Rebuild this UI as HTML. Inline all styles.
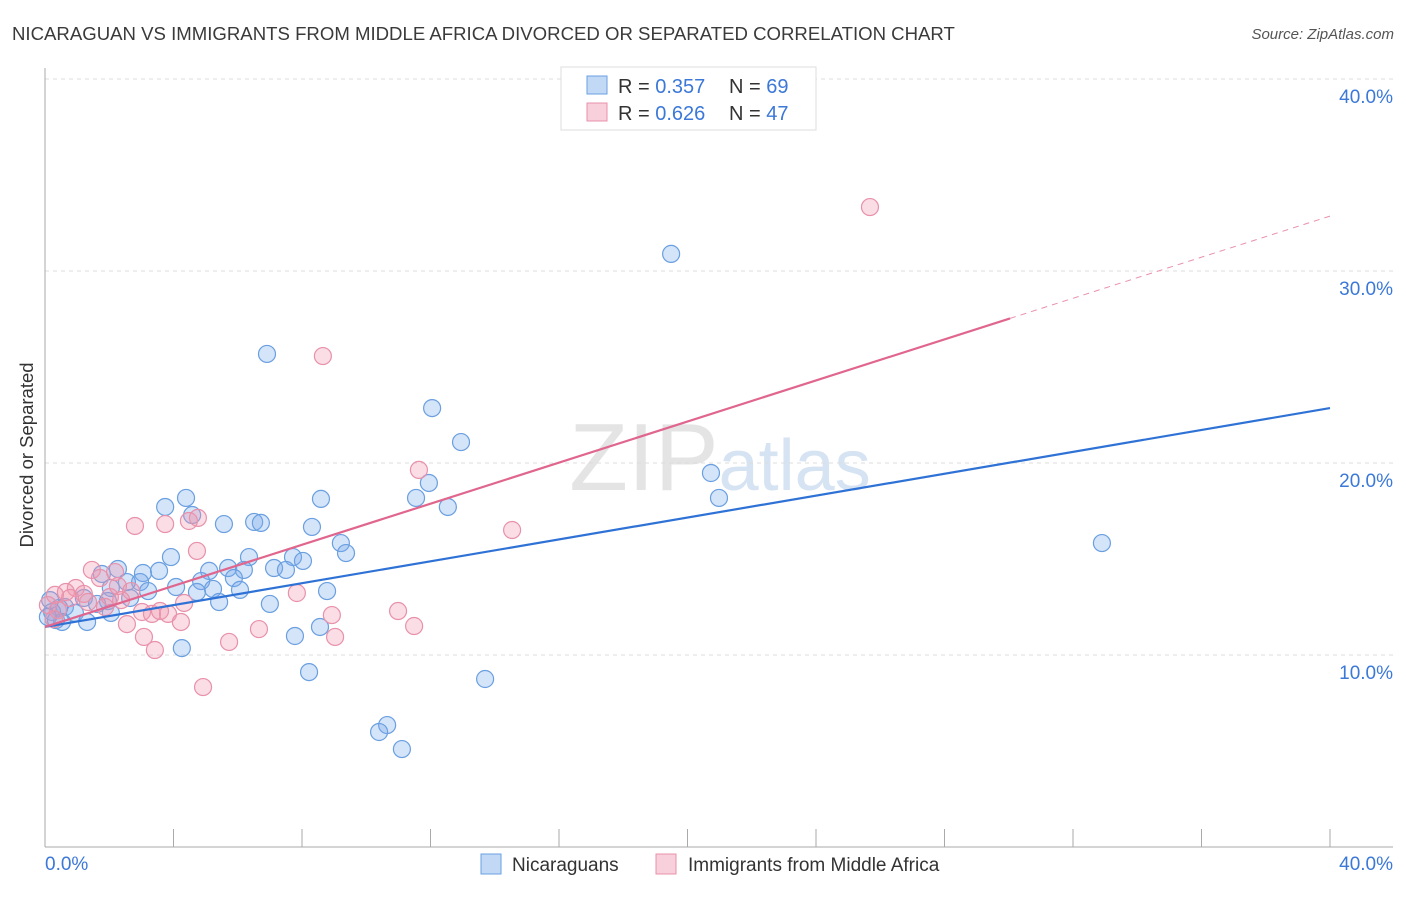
<!DOCTYPE html>
<html><head><meta charset="utf-8"><style>
body{margin:0;background:#fff;font-family:"Liberation Sans",sans-serif;}
svg text{font-family:"Liberation Sans",sans-serif;}
</style></head><body>
<svg id="chart" width="1406" height="892" xmlns="http://www.w3.org/2000/svg">
<text x="12" y="40" font-size="18.6" fill="#3a3a3a">NICARAGUAN VS IMMIGRANTS FROM MIDDLE AFRICA DIVORCED OR SEPARATED CORRELATION CHART</text>
<text x="1394" y="39" font-size="15" fill="#555" text-anchor="end" font-style="italic">Source: ZipAtlas.com</text>
<text x="720" y="490" font-size="96" fill="#e4e4e4" text-anchor="middle" font-family="Liberation Serif,serif">ZIP<tspan fill="#d6e3f3" font-family="Liberation Sans,sans-serif" font-size="72">atlas</tspan></text>
<g id="grid"></g>
<g id="axes"></g>
<g id="points"></g>
<g id="lines"></g>
<text transform="translate(33,455) rotate(-90)" font-size="18.5" fill="#333" text-anchor="middle">Divorced or Separated</text>
<g>
<rect x="561" y="67" width="255" height="63" fill="#fff" stroke="#ddd"/>
<rect x="587" y="76" width="20" height="18" fill="rgba(120,170,235,0.45)" stroke="#6a9fe0"/>
<text x="618" y="93" font-size="20" fill="#333">R = <tspan fill="#3b78d8">0.357</tspan></text>
<text x="729" y="93" font-size="20" fill="#333">N = <tspan fill="#3b78d8">69</tspan></text>
<rect x="587" y="103" width="20" height="18" fill="rgba(240,150,175,0.45)" stroke="#e891ab"/>
<text x="618" y="120" font-size="20" fill="#333">R = <tspan fill="#3b78d8">0.626</tspan></text>
<text x="729" y="120" font-size="20" fill="#333">N = <tspan fill="#3b78d8">47</tspan></text>
</g>
<g>
<rect x="481" y="854" width="20" height="20" fill="rgba(120,170,235,0.45)" stroke="#6a9fe0"/>
<text x="512" y="871" font-size="19" fill="#333">Nicaraguans</text>
<rect x="656" y="854" width="20" height="20" fill="rgba(240,150,175,0.45)" stroke="#e891ab"/>
<text x="688" y="871" font-size="19" fill="#333">Immigrants from Middle Africa</text>
</g>
</svg>
<script>
const blueX=[19.49,6.91,12.05,12.95,20.73,20.98,32.90,11.95,11.55,12.54,8.59,4.39,3.74,4.58,5.57,6.51,6.72,8.31,9.21,9.37,6.35,7.72,8.03,3.92,2.27,1.77,3.05,3.55,5.11,5.70,6.19,7.13,7.50,5.88,2.96,2.55,2.05,3.21,4.08,4.86,5.23,6.07,4.73,8.78,5.42,7.00,1.21,1.62,1.96,0.62,0.44,0.22,0.93,1.31,0.34,0.53,2.05,8.56,7.78,4.26,8.22,13.70,10.65,10.40,11.11,0.16,0.09,2.65];
const blueY=[30.89,25.68,22.86,21.09,19.48,18.18,15.83,18.96,18.18,17.71,18.13,18.18,17.71,17.29,16.82,16.93,16.88,16.67,15.83,15.31,15.10,15.10,14.90,15.10,14.48,14.22,14.27,14.38,14.38,14.53,14.43,14.53,14.43,14.01,13.80,13.80,13.49,13.33,13.54,13.85,13.44,13.39,13.28,13.33,12.76,12.66,12.97,12.66,12.81,12.50,12.45,12.24,12.19,11.72,11.82,11.72,12.19,11.46,10.99,10.36,9.11,8.75,6.35,5.99,5.10,12.86,11.98,12.97];
const pinkX=[25.68,8.65,11.64,14.54,2.80,3.74,4.48,4.76,4.73,1.46,1.71,0.96,0.65,0.31,2.27,2.68,1.21,2.02,2.37,3.02,3.33,3.58,3.83,4.33,7.84,8.93,10.99,11.49,2.55,4.23,6.66,3.08,3.42,5.73,9.03,4.92,0.09,0.40,0.78,1.87,1.34,0.28,2.18];
const pinkY=[33.33,25.57,19.64,16.51,16.72,16.82,16.98,17.14,15.42,14.43,14.01,13.49,13.28,13.13,13.59,13.33,13.18,13.02,12.86,12.24,12.14,12.29,12.14,12.71,13.23,12.08,12.29,11.51,11.61,11.72,11.35,10.94,10.26,10.68,10.94,8.33,12.60,12.34,12.97,12.50,12.76,11.87,14.32];
const yTicks=[10,20,30,40];
const yTickLabels=["10.0%","20.0%","30.0%","40.0%"];
const blueTrend=[11.46,22.86];
const pinkTrend=[11.46,32.86];
const pinkSolidEnd=30.04;
const NS="http://www.w3.org/2000/svg";
const sx=v=>45+v*32.125, sy=v=>847-v*19.2;
function mk(tag,attrs,parent){const e=document.createElementNS(NS,tag);for(const k in attrs)e.setAttribute(k,attrs[k]);parent.appendChild(e);return e;}
const grid=document.getElementById('grid'),axes=document.getElementById('axes'),pts=document.getElementById('points'),lines=document.getElementById('lines');
yTicks.forEach((t,i)=>{
 const l=mk('line',{x1:45,x2:1393,y1:sy(t),y2:sy(t),stroke:'#ddd','stroke-dasharray':'4,4'},grid);
 
 
 const tx=mk('text',{x:1393,y:sy(t)+24,'font-size':19,fill:'#3b78d8','text-anchor':'end'},grid);
 tx.textContent=yTickLabels[i];
 
 
});
const ax=mk('line',{x1:45,x2:45,y1:68,y2:847,stroke:'#aaa'},axes);


const bx=mk('line',{x1:45,x2:1393,y1:847,y2:847,stroke:'#aaa'},axes);


for(let k=0;k<=10;k++){const t=mk('line',{x1:sx(k*4),x2:sx(k*4),y1:829,y2:847,stroke:'#aaa'},axes);
 
 }
const xl0=mk('text',{x:45,y:870,'font-size':19,fill:'#3b78d8'},axes);xl0.textContent='0.0%';


const xl1=mk('text',{x:1393,y:870,'font-size':19,fill:'#3b78d8','text-anchor':'end'},axes);xl1.textContent='40.0%';


blueX.forEach((x,i)=>{const c=mk('circle',{cx:sx(x),cy:sy(blueY[i]),r:8.5,fill:'rgba(120,170,235,0.32)',stroke:'#6a9fe0','stroke-width':1.2},pts);
 
 });
pinkX.forEach((x,i)=>{const c=mk('circle',{cx:sx(x),cy:sy(pinkY[i]),r:8.5,fill:'rgba(240,150,175,0.32)',stroke:'#e891ab','stroke-width':1.2},pts);
 
 });
const bl=mk('line',{x1:sx(0),y1:sy(blueTrend[0]),x2:sx(40),y2:sy(blueTrend[1]),stroke:'#2f72d6','stroke-width':2.2},lines);


const pAt=x=>pinkTrend[0]+(pinkTrend[1]-pinkTrend[0])*x/40;
const pl=mk('line',{x1:sx(0),y1:sy(pinkTrend[0]),x2:sx(pinkSolidEnd),y2:sy(pAt(pinkSolidEnd)),stroke:'#e0668e','stroke-width':2.2},lines);


const pd=mk('line',{x1:sx(pinkSolidEnd),y1:sy(pAt(pinkSolidEnd)),x2:sx(40),y2:sy(pinkTrend[1]),stroke:'#e891ab','stroke-width':1,'stroke-dasharray':'6,5'},lines);


</script>
</body></html>
